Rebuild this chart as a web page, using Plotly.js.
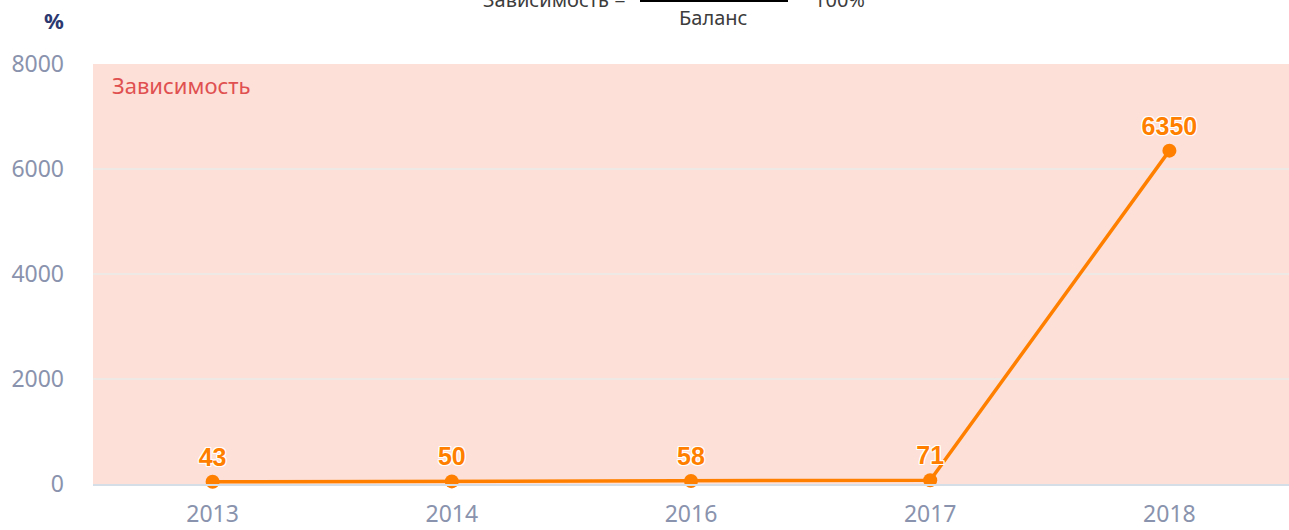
<!DOCTYPE html>
<html>
<head>
<meta charset="utf-8">
<script src="https://cdn.plot.ly/plotly-3.0.1.min.js"></script>
<style>html,body{margin:0;padding:0;background:#fff;}#chart{width:1289px;height:530px;}</style>
</head>
<body>
<div id="chart"></div>
<script>
const years = ["2013", "2014", "2016", "2017", "2018"];
const dependence = [43, 50, 58, 71, 6350];
const yTicks = [0, 2000, 4000, 6000, 8000];

const W = 1289, H = 530, L = 93, R = 0, T = 64, B = 46;
const pw = W - L - R, ph = H - T - B;
const px = x => (x - L) / pw;
const py = y => (H - B - y) / ph;

const trace = {
  x: years,
  y: dependence,
  type: "scatter",
  mode: "lines+markers+text",
  line: {color: "#ff8000", width: 3.5},
  marker: {color: "#ff8000", size: 14},
  text: dependence.map(String),
  textposition: "top center",
  textfont: {family: "Liberation Sans, Arial, sans-serif", size: 25, color: "#ff8000", weight: "bold",
             shadow: "1px 1px 0 #fff, -1px -1px 0 #fff, 1px -1px 0 #fff, -1px 1px 0 #fff, 0 1px 0 #fff, 0 -1px 0 #fff, 1px 0 0 #fff, -1px 0 0 #fff"},
  cliponaxis: false,
  hoverinfo: "x+y"
};

const layout = {
  width: W, height: H,
  margin: {l: L, r: R, t: T, b: B, pad: 0},
  paper_bgcolor: "#ffffff",
  plot_bgcolor: "#fde0d8",
  showlegend: false,
  font: {family: "Noto Sans, sans-serif", color: "#8a93ad"},
  xaxis: {
    type: "category",
    range: [-0.5, 4.5],
    showgrid: false,
    zeroline: false,
    showline: true,
    linecolor: "#d5dde6",
    linewidth: 2,
    ticks: "",
    tickfont: {size: 23, color: "#8a93ad"},
    ticklabelstandoff: 8
  },
  yaxis: {
    range: [0, 8000],
    tickvals: yTicks,
    ticktext: yTicks.map(String),
    showgrid: true,
    gridcolor: "#efe9e6",
    gridwidth: 2,
    zeroline: false,
    ticks: "",
    tickfont: {size: 23, color: "#8a93ad"},
    ticklabelstandoff: 28
  },
  shapes: [
    {type: "line", xref: "paper", yref: "paper", x0: px(640), x1: px(788), y0: py(0.5), y1: py(0.5),
     line: {color: "#000", width: 3}}
  ],
  annotations: [
    {xref: "paper", yref: "paper", x: px(66), y: py(20), xanchor: "right", yanchor: "middle",
     text: "<b>%</b>", showarrow: false, font: {family: "Noto Sans, sans-serif", size: 22, color: "#2c3870"}},
    {xref: "paper", yref: "paper", x: px(110), y: py(85), xanchor: "left", yanchor: "middle",
     text: "Зависимость", showarrow: false, font: {family: "Noto Sans, sans-serif", size: 22, color: "#e05050"}},
    {xref: "paper", yref: "paper", x: px(628), y: py(-1), xanchor: "right", yanchor: "middle",
     text: "Зависимость =", showarrow: false, font: {family: "Noto Sans, sans-serif", size: 20, color: "#3c3c3c"}},
    {xref: "paper", yref: "paper", x: px(713), y: py(18), xanchor: "center", yanchor: "middle",
     text: "Баланс", showarrow: false, font: {family: "Noto Sans, sans-serif", size: 20, color: "#3c3c3c"}},
    {xref: "paper", yref: "paper", x: px(812), y: py(-1), xanchor: "left", yanchor: "middle",
     text: "100%", showarrow: false, font: {family: "Noto Sans, sans-serif", size: 20, color: "#3c3c3c"}}
  ]
};

Plotly.newPlot("chart", [trace], layout, {displayModeBar: false, staticPlot: true});
</script>
</body>
</html>
